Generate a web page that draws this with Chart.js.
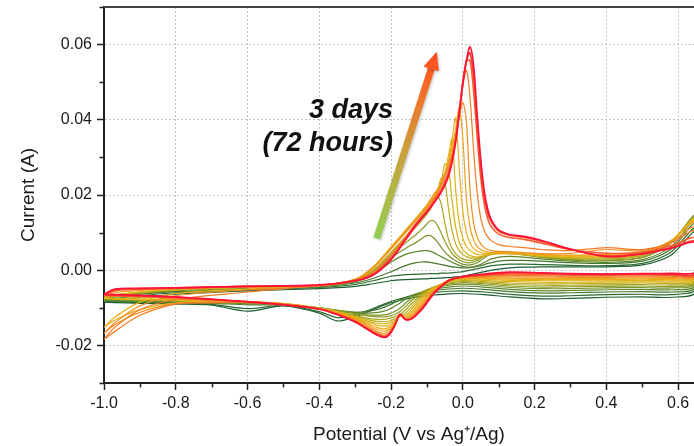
<!DOCTYPE html>
<html>
<head>
<meta charset="utf-8">
<script src="https://cdn.jsdelivr.net/npm/chart.js@4.4.1/dist/chart.umd.min.js"></script>
<style>
  html, body { margin: 0; padding: 0; overflow: hidden; background: #fff; }
  #wrap { width: 714px; height: 446px; }
</style>
</head>
<body>
<div id="wrap"><canvas id="cv" width="714" height="446"></canvas></div>
<script>
// potential grid (V vs Ag+/Ag), forward scan then reverse scan
const potentialForward = [
  -1.0, -0.97, -0.9, -0.8, -0.6, -0.4, -0.3, -0.25, -0.2, -0.16,
  -0.13, -0.11, -0.1, -0.09, -0.08, -0.07, -0.06, -0.05, -0.04, -0.03,
  -0.02, -0.01, 0.0, 0.01, 0.02, 0.03, 0.04, 0.05, 0.06, 0.07,
  0.08, 0.1, 0.13, 0.17, 0.22, 0.3, 0.4, 0.5, 0.58, 0.65
];
const potentialReverse = [
  0.65, 0.58, 0.5, 0.4, 0.3, 0.22, 0.13, 0.06, 0.0, -0.04,
  -0.08, -0.11, -0.14, -0.16, -0.175, -0.19, -0.205, -0.22, -0.24, -0.27,
  -0.3, -0.35, -0.4, -0.5, -0.6, -0.7, -0.8, -0.9, -0.97, -1.0
];

// current (A), one row per scan, first scan (green) to last scan (red)
const currentForward = [
  [-0.0085,-0.0080,-0.0072,-0.0064,-0.0055,-0.0049,-0.0043,-0.0036,-0.0028,-0.0025,
   -0.0024,-0.0023,-0.0023,-0.0022,-0.0022,-0.0021,-0.0021,-0.0020,-0.0020,-0.0019,
   -0.0018,-0.0017,-0.0016,-0.0014,-0.0012,-0.0010,-0.0008,-0.0006,-0.0004,-0.0002,
   0.0000,0.0003,0.0006,0.0008,0.0009,0.0009,0.0009,0.0014,0.0040,0.0102],
  [-0.0083,-0.0076,-0.0068,-0.0060,-0.0052,-0.0046,-0.0038,-0.0028,-0.0016,-0.0012,
   -0.0011,-0.0010,-0.0010,-0.0009,-0.0009,-0.0009,-0.0008,-0.0008,-0.0008,-0.0007,
   -0.0006,-0.0005,-0.0004,-0.0002,0.0000,0.0002,0.0004,0.0006,0.0008,0.0010,
   0.0012,0.0014,0.0016,0.0016,0.0015,0.0013,0.0012,0.0018,0.0048,0.0112],
  [-0.0082,-0.0072,-0.0064,-0.0057,-0.0050,-0.0044,-0.0034,-0.0022,-0.0004,0.0012,
   0.0020,0.0022,0.0022,0.0021,0.0019,0.0017,0.0015,0.0013,0.0011,0.0009,
   0.0008,0.0007,0.0006,0.0006,0.0007,0.0008,0.0010,0.0012,0.0015,0.0018,
   0.0020,0.0024,0.0026,0.0026,0.0024,0.0020,0.0018,0.0024,0.0056,0.0125],
  [-0.0080,-0.0070,-0.0062,-0.0055,-0.0048,-0.0043,-0.0031,-0.0012,0.0022,0.0042,
   0.0049,0.0052,0.0052,0.0050,0.0046,0.0041,0.0036,0.0031,0.0026,0.0021,
   0.0017,0.0013,0.0010,0.0008,0.0008,0.0009,0.0012,0.0016,0.0021,0.0026,
   0.0030,0.0035,0.0037,0.0035,0.0030,0.0024,0.0021,0.0028,0.0062,0.0135],
  [-0.0078,-0.0068,-0.0060,-0.0053,-0.0047,-0.0042,-0.0029,-0.0006,0.0033,0.0058,
   0.0074,0.0087,0.0092,0.0092,0.0085,0.0074,0.0061,0.0049,0.0039,0.0031,
   0.0025,0.0020,0.0016,0.0014,0.0014,0.0016,0.0020,0.0026,0.0033,0.0039,
   0.0043,0.0047,0.0046,0.0041,0.0034,0.0027,0.0025,0.0033,0.0072,0.0146],
  [-0.0076,-0.0066,-0.0059,-0.0052,-0.0046,-0.0042,-0.0027,-0.0003,0.0040,0.0072,
   0.0095,0.0113,0.0123,0.0132,0.0131,0.0118,0.0098,0.0077,0.0059,0.0045,
   0.0035,0.0028,0.0023,0.0020,0.0020,0.0022,0.0026,0.0032,0.0038,0.0043,
   0.0046,0.0049,0.0048,0.0042,0.0035,0.0029,0.0027,0.0035,0.0074,0.0144],
  [-0.0075,-0.0068,-0.0060,-0.0053,-0.0046,-0.0041,-0.0026,-0.0002,0.0045,0.0085,
   0.0115,0.0137,0.0149,0.0163,0.0182,0.0195,0.0175,0.0125,0.0082,0.0058,
   0.0044,0.0035,0.0030,0.0027,0.0026,0.0027,0.0030,0.0034,0.0038,0.0041,
   0.0043,0.0046,0.0045,0.0041,0.0036,0.0031,0.0030,0.0038,0.0075,0.0141],
  [-0.0074,-0.0067,-0.0059,-0.0052,-0.0045,-0.0040,-0.0025,0.0000,0.0048,0.0089,
   0.0122,0.0146,0.0158,0.0173,0.0190,0.0212,0.0245,0.0232,0.0165,0.0105,
   0.0070,0.0052,0.0042,0.0036,0.0033,0.0032,0.0033,0.0035,0.0038,0.0040,
   0.0042,0.0044,0.0044,0.0041,0.0037,0.0033,0.0033,0.0040,0.0076,0.0138],
  [-0.0073,-0.0066,-0.0058,-0.0051,-0.0045,-0.0040,-0.0024,0.0006,0.0058,0.0101,
   0.0134,0.0157,0.0170,0.0184,0.0195,0.0214,0.0236,0.0283,0.0272,0.0185,
   0.0115,0.0075,0.0055,0.0045,0.0039,0.0036,0.0035,0.0036,0.0038,0.0040,
   0.0042,0.0044,0.0044,0.0042,0.0038,0.0035,0.0035,0.0042,0.0077,0.0136],
  [-0.0074,-0.0066,-0.0058,-0.0051,-0.0045,-0.0041,-0.0024,0.0008,0.0061,0.0105,
   0.0138,0.0161,0.0173,0.0188,0.0203,0.0216,0.0236,0.0260,0.0305,0.0350,
   0.0215,0.0125,0.0085,0.0063,0.0052,0.0046,0.0042,0.0041,0.0041,0.0042,
   0.0043,0.0045,0.0045,0.0043,0.0039,0.0036,0.0037,0.0043,0.0078,0.0134],
  [-0.0152,-0.0125,-0.0085,-0.0062,-0.0050,-0.0041,-0.0025,0.0009,0.0062,0.0106,
   0.0139,0.0162,0.0174,0.0188,0.0203,0.0215,0.0235,0.0258,0.0288,0.0345,
   0.0405,0.0270,0.0155,0.0100,0.0072,0.0058,0.0051,0.0047,0.0045,0.0045,
   0.0045,0.0046,0.0046,0.0044,0.0040,0.0038,0.0039,0.0045,0.0078,0.0132],
  [-0.0069,-0.0060,-0.0054,-0.0049,-0.0044,-0.0041,-0.0025,0.0007,0.0060,0.0104,
   0.0137,0.0160,0.0172,0.0186,0.0202,0.0214,0.0234,0.0257,0.0286,0.0325,
   0.0375,0.0432,0.0350,0.0190,0.0115,0.0080,0.0063,0.0055,0.0050,0.0048,
   0.0047,0.0047,0.0047,0.0045,0.0042,0.0040,0.0042,0.0047,0.0078,0.0128],
  [-0.0168,-0.0140,-0.0095,-0.0068,-0.0052,-0.0041,-0.0025,0.0005,0.0056,0.0099,
   0.0133,0.0156,0.0168,0.0182,0.0193,0.0211,0.0231,0.0254,0.0280,0.0310,
   0.0355,0.0405,0.0446,0.0395,0.0215,0.0125,0.0088,0.0070,0.0060,0.0055,
   0.0052,0.0050,0.0049,0.0047,0.0044,0.0045,0.0055,0.0052,0.0075,0.0115],
  [-0.0184,-0.0152,-0.0105,-0.0078,-0.0058,-0.0040,-0.0026,-0.0006,0.0040,0.0088,
   0.0126,0.0150,0.0162,0.0175,0.0190,0.0206,0.0224,0.0246,0.0272,0.0305,
   0.0352,0.0415,0.0490,0.0532,0.0460,0.0320,0.0205,0.0138,0.0105,0.0088,
   0.0078,0.0068,0.0063,0.0060,0.0055,0.0052,0.0060,0.0055,0.0072,0.0105],
  [-0.0067,-0.0055,-0.0051,-0.0048,-0.0043,-0.0040,-0.0027,-0.0010,0.0033,0.0084,
   0.0124,0.0147,0.0158,0.0170,0.0184,0.0199,0.0215,0.0235,0.0260,0.0295,
   0.0350,0.0425,0.0500,0.0555,0.0558,0.0475,0.0355,0.0245,0.0175,0.0135,
   0.0115,0.0096,0.0087,0.0082,0.0072,0.0055,0.0045,0.0048,0.0065,0.0085],
  [-0.0065,-0.0052,-0.0049,-0.0047,-0.0043,-0.0040,-0.0028,-0.0012,0.0030,0.0082,
   0.0122,0.0145,0.0156,0.0168,0.0181,0.0195,0.0210,0.0229,0.0254,0.0290,
   0.0345,0.0420,0.0498,0.0556,0.0578,0.0515,0.0390,0.0275,0.0195,0.0150,
   0.0128,0.0104,0.0093,0.0088,0.0077,0.0055,0.0038,0.0044,0.0060,0.0076],
  [-0.0064,-0.0050,-0.0048,-0.0047,-0.0043,-0.0039,-0.0028,-0.0013,0.0028,0.0080,
   0.0120,0.0143,0.0154,0.0166,0.0179,0.0193,0.0208,0.0226,0.0250,0.0286,
   0.0340,0.0415,0.0495,0.0558,0.0594,0.0545,0.0415,0.0295,0.0210,0.0160,
   0.0133,0.0107,0.0095,0.0090,0.0079,0.0056,0.0036,0.0043,0.0058,0.0073]
];

const currentReverse = [
  [-0.0058,-0.0072,-0.0071,-0.0072,-0.0075,-0.0076,-0.0071,-0.0065,-0.0062,-0.0063,
   -0.0066,-0.0069,-0.0073,-0.0077,-0.0080,-0.0084,-0.0088,-0.0093,-0.0101,-0.0113,
   -0.0124,-0.0135,-0.0114,-0.0095,-0.0109,-0.0093,-0.0090,-0.0088,-0.0086,-0.0085],
  [-0.0050,-0.0065,-0.0064,-0.0065,-0.0068,-0.0069,-0.0064,-0.0058,-0.0055,-0.0056,
   -0.0059,-0.0063,-0.0068,-0.0072,-0.0076,-0.0080,-0.0085,-0.0090,-0.0098,-0.0109,
   -0.0118,-0.0126,-0.0110,-0.0094,-0.0102,-0.0091,-0.0088,-0.0086,-0.0084,-0.0083],
  [-0.0045,-0.0058,-0.0057,-0.0058,-0.0060,-0.0061,-0.0057,-0.0051,-0.0048,-0.0050,
   -0.0054,-0.0059,-0.0066,-0.0073,-0.0079,-0.0086,-0.0093,-0.0099,-0.0105,-0.0110,
   -0.0112,-0.0110,-0.0104,-0.0093,-0.0092,-0.0088,-0.0086,-0.0084,-0.0083,-0.0082],
  [-0.0040,-0.0052,-0.0051,-0.0052,-0.0054,-0.0055,-0.0051,-0.0045,-0.0042,-0.0045,
   -0.0050,-0.0057,-0.0067,-0.0077,-0.0087,-0.0096,-0.0104,-0.0109,-0.0113,-0.0114,
   -0.0112,-0.0107,-0.0101,-0.0092,-0.0089,-0.0086,-0.0084,-0.0082,-0.0081,-0.0080],
  [-0.0035,-0.0047,-0.0046,-0.0047,-0.0049,-0.0049,-0.0046,-0.0040,-0.0037,-0.0040,
   -0.0047,-0.0056,-0.0072,-0.0088,-0.0101,-0.0110,-0.0116,-0.0119,-0.0120,-0.0119,
   -0.0115,-0.0107,-0.0100,-0.0091,-0.0087,-0.0084,-0.0082,-0.0080,-0.0079,-0.0078],
  [-0.0032,-0.0043,-0.0042,-0.0043,-0.0044,-0.0045,-0.0042,-0.0036,-0.0033,-0.0037,
   -0.0045,-0.0057,-0.0078,-0.0097,-0.0110,-0.0118,-0.0122,-0.0124,-0.0124,-0.0121,
   -0.0116,-0.0107,-0.0100,-0.0090,-0.0086,-0.0083,-0.0081,-0.0079,-0.0077,-0.0076],
  [-0.0029,-0.0039,-0.0038,-0.0039,-0.0040,-0.0040,-0.0038,-0.0033,-0.0030,-0.0034,
   -0.0044,-0.0060,-0.0086,-0.0106,-0.0118,-0.0124,-0.0128,-0.0131,-0.0131,-0.0127,
   -0.0120,-0.0109,-0.0101,-0.0090,-0.0085,-0.0082,-0.0080,-0.0078,-0.0076,-0.0075],
  [-0.0026,-0.0035,-0.0034,-0.0035,-0.0036,-0.0036,-0.0034,-0.0030,-0.0027,-0.0032,
   -0.0045,-0.0064,-0.0094,-0.0114,-0.0122,-0.0130,-0.0135,-0.0137,-0.0136,-0.0130,
   -0.0122,-0.0110,-0.0101,-0.0089,-0.0084,-0.0081,-0.0079,-0.0077,-0.0075,-0.0074],
  [-0.0023,-0.0031,-0.0031,-0.0031,-0.0032,-0.0032,-0.0030,-0.0027,-0.0025,-0.0030,
   -0.0046,-0.0068,-0.0101,-0.0120,-0.0123,-0.0134,-0.0140,-0.0143,-0.0141,-0.0134,
   -0.0124,-0.0111,-0.0101,-0.0089,-0.0084,-0.0081,-0.0079,-0.0077,-0.0075,-0.0073],
  [-0.0020,-0.0028,-0.0027,-0.0028,-0.0028,-0.0028,-0.0027,-0.0024,-0.0023,-0.0029,
   -0.0048,-0.0073,-0.0107,-0.0124,-0.0122,-0.0137,-0.0146,-0.0149,-0.0146,-0.0137,
   -0.0126,-0.0112,-0.0102,-0.0090,-0.0085,-0.0082,-0.0080,-0.0078,-0.0076,-0.0074],
  [-0.0018,-0.0025,-0.0024,-0.0025,-0.0025,-0.0025,-0.0024,-0.0022,-0.0022,-0.0028,
   -0.0050,-0.0078,-0.0112,-0.0127,-0.0121,-0.0140,-0.0152,-0.0156,-0.0152,-0.0140,
   -0.0128,-0.0113,-0.0102,-0.0089,-0.0084,-0.0083,-0.0087,-0.0105,-0.0133,-0.0152],
  [-0.0016,-0.0022,-0.0021,-0.0022,-0.0022,-0.0022,-0.0021,-0.0020,-0.0021,-0.0027,
   -0.0052,-0.0083,-0.0117,-0.0129,-0.0120,-0.0142,-0.0157,-0.0162,-0.0157,-0.0143,
   -0.0129,-0.0114,-0.0102,-0.0089,-0.0083,-0.0080,-0.0076,-0.0072,-0.0070,-0.0069],
  [-0.0014,-0.0019,-0.0018,-0.0019,-0.0019,-0.0018,-0.0018,-0.0018,-0.0020,-0.0027,
   -0.0055,-0.0088,-0.0121,-0.0130,-0.0119,-0.0144,-0.0162,-0.0168,-0.0162,-0.0147,
   -0.0131,-0.0115,-0.0103,-0.0090,-0.0085,-0.0085,-0.0089,-0.0112,-0.0145,-0.0168],
  [-0.0012,-0.0016,-0.0015,-0.0016,-0.0016,-0.0015,-0.0014,-0.0016,-0.0019,-0.0027,
   -0.0057,-0.0092,-0.0124,-0.0131,-0.0118,-0.0146,-0.0166,-0.0173,-0.0166,-0.0150,
   -0.0134,-0.0116,-0.0103,-0.0091,-0.0086,-0.0087,-0.0090,-0.0120,-0.0163,-0.0184],
  [-0.0010,-0.0013,-0.0012,-0.0013,-0.0013,-0.0011,-0.0010,-0.0014,-0.0018,-0.0027,
   -0.0059,-0.0095,-0.0126,-0.0131,-0.0118,-0.0147,-0.0169,-0.0176,-0.0169,-0.0153,
   -0.0136,-0.0117,-0.0103,-0.0091,-0.0084,-0.0079,-0.0074,-0.0070,-0.0068,-0.0067],
  [-0.0008,-0.0011,-0.0010,-0.0011,-0.0010,-0.0008,-0.0007,-0.0012,-0.0017,-0.0028,
   -0.0060,-0.0098,-0.0127,-0.0131,-0.0117,-0.0148,-0.0171,-0.0178,-0.0171,-0.0154,
   -0.0137,-0.0118,-0.0103,-0.0092,-0.0084,-0.0078,-0.0072,-0.0068,-0.0066,-0.0065],
  [-0.0004,-0.0008,-0.0009,-0.0010,-0.0009,-0.0007,-0.0005,-0.0010,-0.0017,-0.0028,
   -0.0062,-0.0100,-0.0128,-0.0131,-0.0117,-0.0148,-0.0172,-0.0179,-0.0172,-0.0155,
   -0.0138,-0.0118,-0.0103,-0.0092,-0.0084,-0.0077,-0.0071,-0.0067,-0.0065,-0.0064]
];

const scanColors = [
  '#1d5e32', '#2b6a30', '#46792e', '#5d862c', '#76922a', '#8f9c26', '#a8a620', '#c0ad1c', '#d3b118',
  '#e2b316', '#ebae18', '#efa11c', '#f19020', '#f37a26', '#f6602c', '#f93c32', '#ff1038'
];

const xTicks = [-1.0, -0.8, -0.6, -0.4, -0.2, 0.0, 0.2, 0.4, 0.6];
const yTicks = [-0.02, 0.0, 0.02, 0.04, 0.06];
const noteLines = ['3 days', '(72 hours)'];

const FONT = "'Liberation Sans', Arial, Helvetica, sans-serif";

var datasets = [];
for (var i = 0; i < currentForward.length; i++) {
  var pts = [];
  for (var j = 0; j < potentialForward.length; j++) {
    pts.push({x: potentialForward[j], y: currentForward[i][j]});
  }
  for (var j = 0; j < potentialReverse.length; j++) {
    pts.push({x: potentialReverse[j], y: currentReverse[i][j]});
  }
  datasets.push({
    label: 'Scan ' + (i + 1),
    data: pts,
    borderColor: scanColors[i],
    borderWidth: i >= 14 ? 1.6 : 1.2,
    pointRadius: 0,
    tension: 0.3,
    fill: false,
    order: currentForward.length - i
  });
}

function onlyTicks(list) {
  return function(scale) {
    scale.ticks = list.map(function(v) { return {value: v}; });
  };
}

// keep the plot frame where it is, labels may hang over the edges
function fixSize(prop, size) {
  return function(s) {
    s[prop] = size;
    s.paddingTop = 0; s.paddingBottom = 0; s.paddingLeft = 0; s.paddingRight = 0;
  };
}

// minor ticks, top frame, arrow and label
var decor = {
  id: 'decor',
  afterDatasetsDraw: function(chart) {
    var ctx = chart.ctx, a = chart.chartArea;
    var xs = chart.scales.x, ys = chart.scales.y;
    ctx.save();
    ctx.strokeStyle = '#222';
    ctx.lineWidth = 1.5;
    ctx.beginPath();
    for (var k = -3; k <= 7; k += 2) {
      var py = Math.round(ys.getPixelForValue(k / 100)) + 0.5;
      ctx.moveTo(a.left - 4.5, py); ctx.lineTo(a.left, py);
    }
    for (var k = -9; k <= 7; k += 2) {
      var px = Math.round(xs.getPixelForValue(k / 10)) + 0.5;
      ctx.moveTo(px, a.bottom); ctx.lineTo(px, a.bottom + 4.5);
    }
    ctx.stroke();
    ctx.strokeStyle = '#444';
    ctx.lineWidth = 2;
    ctx.beginPath();
    ctx.moveTo(a.left, a.top); ctx.lineTo(a.right, a.top); ctx.lineTo(a.right, a.bottom);
    ctx.stroke();

    // arrow
    var x0 = xs.getPixelForValue(-0.24), y0 = ys.getPixelForValue(0.0085);
    var x1 = xs.getPixelForValue(-0.0727), y1 = ys.getPixelForValue(0.0581);
    var dx = x1 - x0, dy = y1 - y0, len = Math.sqrt(dx * dx + dy * dy);
    var ux = dx / len, uy = dy / len, head = 18, half = 8;
    var bx = x1 - ux * head, by = y1 - uy * head;
    var g = ctx.createLinearGradient(x0, y0, x1, y1);
    g.addColorStop(0, '#92d050');
    g.addColorStop(0.45, '#c9a23e');
    g.addColorStop(0.75, '#f0742a');
    g.addColorStop(1, '#ff4a1c');
    ctx.shadowColor = 'rgba(0,0,0,0.25)';
    ctx.shadowBlur = 3;
    ctx.shadowOffsetX = 1;
    ctx.shadowOffsetY = 1;
    ctx.strokeStyle = g;
    ctx.lineWidth = 7;
    ctx.lineCap = 'butt';
    ctx.beginPath();
    ctx.moveTo(x0, y0); ctx.lineTo(bx + ux * 2, by + uy * 2);
    ctx.stroke();
    ctx.fillStyle = g;
    ctx.beginPath();
    ctx.moveTo(x1, y1);
    ctx.lineTo(bx - uy * half, by + ux * half);
    ctx.lineTo(bx + uy * half, by - ux * half);
    ctx.closePath();
    ctx.fill();
    ctx.shadowColor = 'transparent';

    ctx.fillStyle = '#111';
    ctx.font = 'italic bold 27px ' + FONT;
    ctx.textAlign = 'right';
    ctx.textBaseline = 'alphabetic';
    var tx = xs.getPixelForValue(-0.1946);
    ctx.fillText(noteLines[0], tx, ys.getPixelForValue(0.0406));
    ctx.fillText(noteLines[1], tx, ys.getPixelForValue(0.0317));
    ctx.restore();
  }
};

new Chart(document.getElementById('cv'), {
  type: 'line',
  data: { datasets: datasets },
  options: {
    responsive: false,
    animation: false,
    events: [],
    layout: { padding: { top: 7, right: 0, bottom: 0, left: 0 } },
    plugins: { legend: { display: false }, tooltip: { enabled: false } },
    scales: {
      x: {
        type: 'linear',
        min: -1.0,
        max: 0.7,
        afterBuildTicks: onlyTicks(xTicks),
        afterFit: fixSize('height', 63),
        ticks: {
          autoSkip: false,
          maxRotation: 0,
          padding: 4,
          color: '#1a1a1a',
          font: { family: FONT, size: 16 },
          callback: function(v) { return (Math.abs(v) < 1e-9 ? 0 : v).toFixed(1); }
        },
        grid: { color: '#c4c4c4', lineWidth: 1, tickLength: 7, tickColor: '#222', tickWidth: 1.5 },
        border: { color: '#222', width: 2, dash: [2, 2] },
        title: {
          display: true,
          text: 'Potential (V vs Ag\u207A/Ag)',
          color: '#1a1a1a',
          font: { family: FONT, size: 19 },
          padding: { top: 0, bottom: 0 }
        }
      },
      y: {
        min: -0.03,
        max: 0.07,
        afterBuildTicks: onlyTicks(yTicks),
        afterFit: fixSize('width', 104),
        ticks: {
          autoSkip: false,
          padding: 5,
          color: '#1a1a1a',
          font: { family: FONT, size: 16 },
          callback: function(v) { return (Math.abs(v) < 1e-9 ? 0 : v).toFixed(2); }
        },
        grid: { color: '#c4c4c4', lineWidth: 1, tickLength: 7, tickColor: '#222', tickWidth: 1.5 },
        border: { color: '#222', width: 2, dash: [2, 2] },
        title: {
          display: true,
          text: 'Current (A)',
          color: '#1a1a1a',
          font: { family: FONT, size: 19 },
          padding: { top: 17, bottom: 0 }
        }
      }
    }
  },
  plugins: [decor]
});
</script>
</body>
</html>
